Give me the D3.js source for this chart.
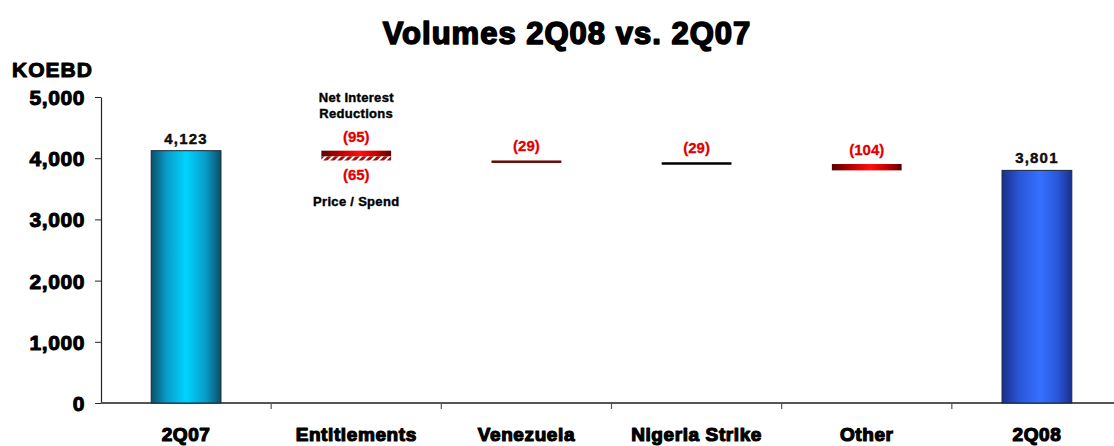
<!DOCTYPE html>
<html>
<head>
<meta charset="utf-8">
<script src="https://cdn.jsdelivr.net/npm/d3@7"></script>
<style>
  html, body { margin: 0; padding: 0; background: #fff; }
  svg { display: block; font-family: "Liberation Sans", Arial, sans-serif; }
</style>
</head>
<body>
<svg id="chart" width="1114" height="446"></svg>
<script>
// Volumes bridge, KOEBD
const categories = ["2Q07", "Entitlements", "Venezuela", "Nigeria Strike", "Other", "2Q08"];
const startValue = 4123;
const endValue = 3801;
const changeCategories = ["Entitlements", "Entitlements", "Venezuela", "Nigeria Strike", "Other"];
const changeValues = [-95, -65, -29, -29, -104];
const yTicks = [0, 1000, 2000, 3000, 4000, 5000];
const entitlementNotes = ["Net Interest", "Reductions", "Price / Spend"];

const svg = d3.select("#chart");
const margin = { left: 101, right: -8, top: 97, bottom: 43 };
const W = 1114, H = 446;

const x = d3.scaleBand().domain(categories)
  .range([margin.left, W - margin.right]).paddingInner(0.59).paddingOuter(0.295);
const y = d3.scaleLinear().domain([0, 5000]).range([H - margin.bottom, margin.top]);
const fmt = d3.format(",");

// gradients
const defs = svg.append("defs");
function hGrad(id, stops) {
  const g = defs.append("linearGradient").attr("id", id).attr("x1", "0%").attr("x2", "100%").attr("y1", "0%").attr("y2", "0%");
  stops.forEach(([o, c]) => g.append("stop").attr("offset", o).attr("stop-color", c));
}
hGrad("gCyan", [["0%", "#0b4f68"], ["22%", "#0a9cc8"], ["50%", "#00d4ff"], ["78%", "#0a9cc8"], ["100%", "#0b4f68"]]);
hGrad("gBlue", [["0%", "#1a2f8a"], ["25%", "#2a56d8"], ["55%", "#3570ff"], ["80%", "#2a56d8"], ["100%", "#1a2f8a"]]);
hGrad("gRed", [["0%", "#5a0000"], ["30%", "#c00000"], ["55%", "#ff1010"], ["80%", "#c00000"], ["100%", "#5a0000"]]);
const pat = defs.append("pattern").attr("id", "hatch").attr("patternUnits", "userSpaceOnUse")
  .attr("width", 5).attr("height", 5).attr("patternTransform", "rotate(45)");
pat.append("rect").attr("width", 5).attr("height", 5).attr("fill", "#9a1010");
pat.append("rect").attr("width", 2).attr("height", 5).attr("fill", "#ffffff");

// heavy text helper
function heavy(sel, size, stroke, spacing) {
  return sel.attr("font-size", size).attr("font-weight", "bold").attr("fill", "#000")
    .attr("stroke", "#000").attr("stroke-width", stroke).attr("letter-spacing", spacing)
    .attr("stroke-linejoin", "round");
}

// title
heavy(svg.append("text").attr("x", 567).attr("y", 44).attr("text-anchor", "middle"), 31, 1.6, 1)
  .text("Volumes 2Q08 vs. 2Q07");
heavy(svg.append("text").attr("x", 12).attr("y", 77), 21, 1, 1).text("KOEBD");

// y axis
const yAxis = svg.append("g").attr("transform", `translate(${margin.left},0)`)
  .call(d3.axisLeft(y).tickValues(yTicks).tickFormat(fmt).tickSize(6).tickSizeOuter(0));
yAxis.select(".domain").attr("stroke", "#222").attr("stroke-width", 1.2);
yAxis.selectAll(".tick line").attr("stroke", "#222");
heavy(yAxis.selectAll(".tick text").attr("x", -16).attr("dy", "0.36em")
  .attr("font-family", "Liberation Sans, Arial"), 21, 1, 0.6);

// x axis with ticks on category boundaries
const xBase = y(0);
svg.append("line").attr("x1", margin.left).attr("x2", W).attr("y1", xBase).attr("y2", xBase)
  .attr("stroke", "#555").attr("stroke-width", 2);
const step = x.step();
categories.slice(1).forEach(c => {
  const bx = x(c) - (step - x.bandwidth()) / 2;
  svg.append("line").attr("x1", bx).attr("x2", bx).attr("y1", xBase).attr("y2", xBase + 6)
    .attr("stroke", "#555").attr("stroke-width", 1.2);
});
heavy(svg.selectAll(".cat").data(categories).join("text").attr("class", "cat")
  .attr("x", d => x(d) + x.bandwidth() / 2).attr("y", 441).attr("text-anchor", "middle"), 19, 1.2, 0.6)
  .text(d => d);

// total bars
const totals = [{ c: categories[0], v: startValue, fill: "url(#gCyan)" }, { c: categories[5], v: endValue, fill: "url(#gBlue)" }];
svg.selectAll(".total").data(totals).join("rect").attr("class", "total")
  .attr("x", d => x(d.c)).attr("width", x.bandwidth())
  .attr("y", d => y(d.v)).attr("height", d => y(0) - y(d.v))
  .attr("fill", d => d.fill).attr("stroke", "#1a2a3a").attr("stroke-width", 1);
heavy(svg.selectAll(".totalLbl").data(totals).join("text").attr("class", "totalLbl")
  .attr("x", d => x(d.c) + x.bandwidth() / 2).attr("y", d => y(d.v) - 7).attr("text-anchor", "middle"), 15, 0.4, 1.2)
  .attr("fill", "#111").text(d => fmt(d.v));

// change steps
let running = startValue;
const steps = changeValues.map((v, i) => {
  const s = { c: changeCategories[i], v, top: running, bottom: running + v, i };
  running += v;
  return s;
});
const stepFill = ["url(#gRed)", "url(#hatch)", "#6a0808", "#000000", "url(#gRed)"];
svg.selectAll(".step").data(steps).join("rect").attr("class", "step")
  .attr("x", d => x(d.c)).attr("width", x.bandwidth())
  .attr("y", d => y(d.top)).attr("height", d => Math.max(2.5, y(d.bottom) - y(d.top)))
  .attr("fill", d => stepFill[d.i]);

// step labels
const lblText = d => `(${Math.abs(d.v)})`;
svg.selectAll(".stepLbl").data(steps).join("text").attr("class", "stepLbl")
  .attr("x", d => x(d.c) + x.bandwidth() / 2)
  .attr("y", d => d.i === 1 ? y(d.bottom) + 20 : y(d.top) - 9)
  .attr("text-anchor", "middle").attr("font-size", 15).attr("font-weight", "bold")
  .attr("fill", "#e00000").attr("stroke", "#e00000").attr("stroke-width", 0.3).text(lblText);

// entitlement notes
const ent = x("Entitlements") + x.bandwidth() / 2;
[[entitlementNotes[0], 102], [entitlementNotes[1], 118], [entitlementNotes[2], 206]].forEach(([t, yy]) => {
  heavy(svg.append("text").attr("x", ent).attr("y", yy).attr("text-anchor", "middle"), 13, 0.4, 0.3).text(t);
});
</script>
</body>
</html>
